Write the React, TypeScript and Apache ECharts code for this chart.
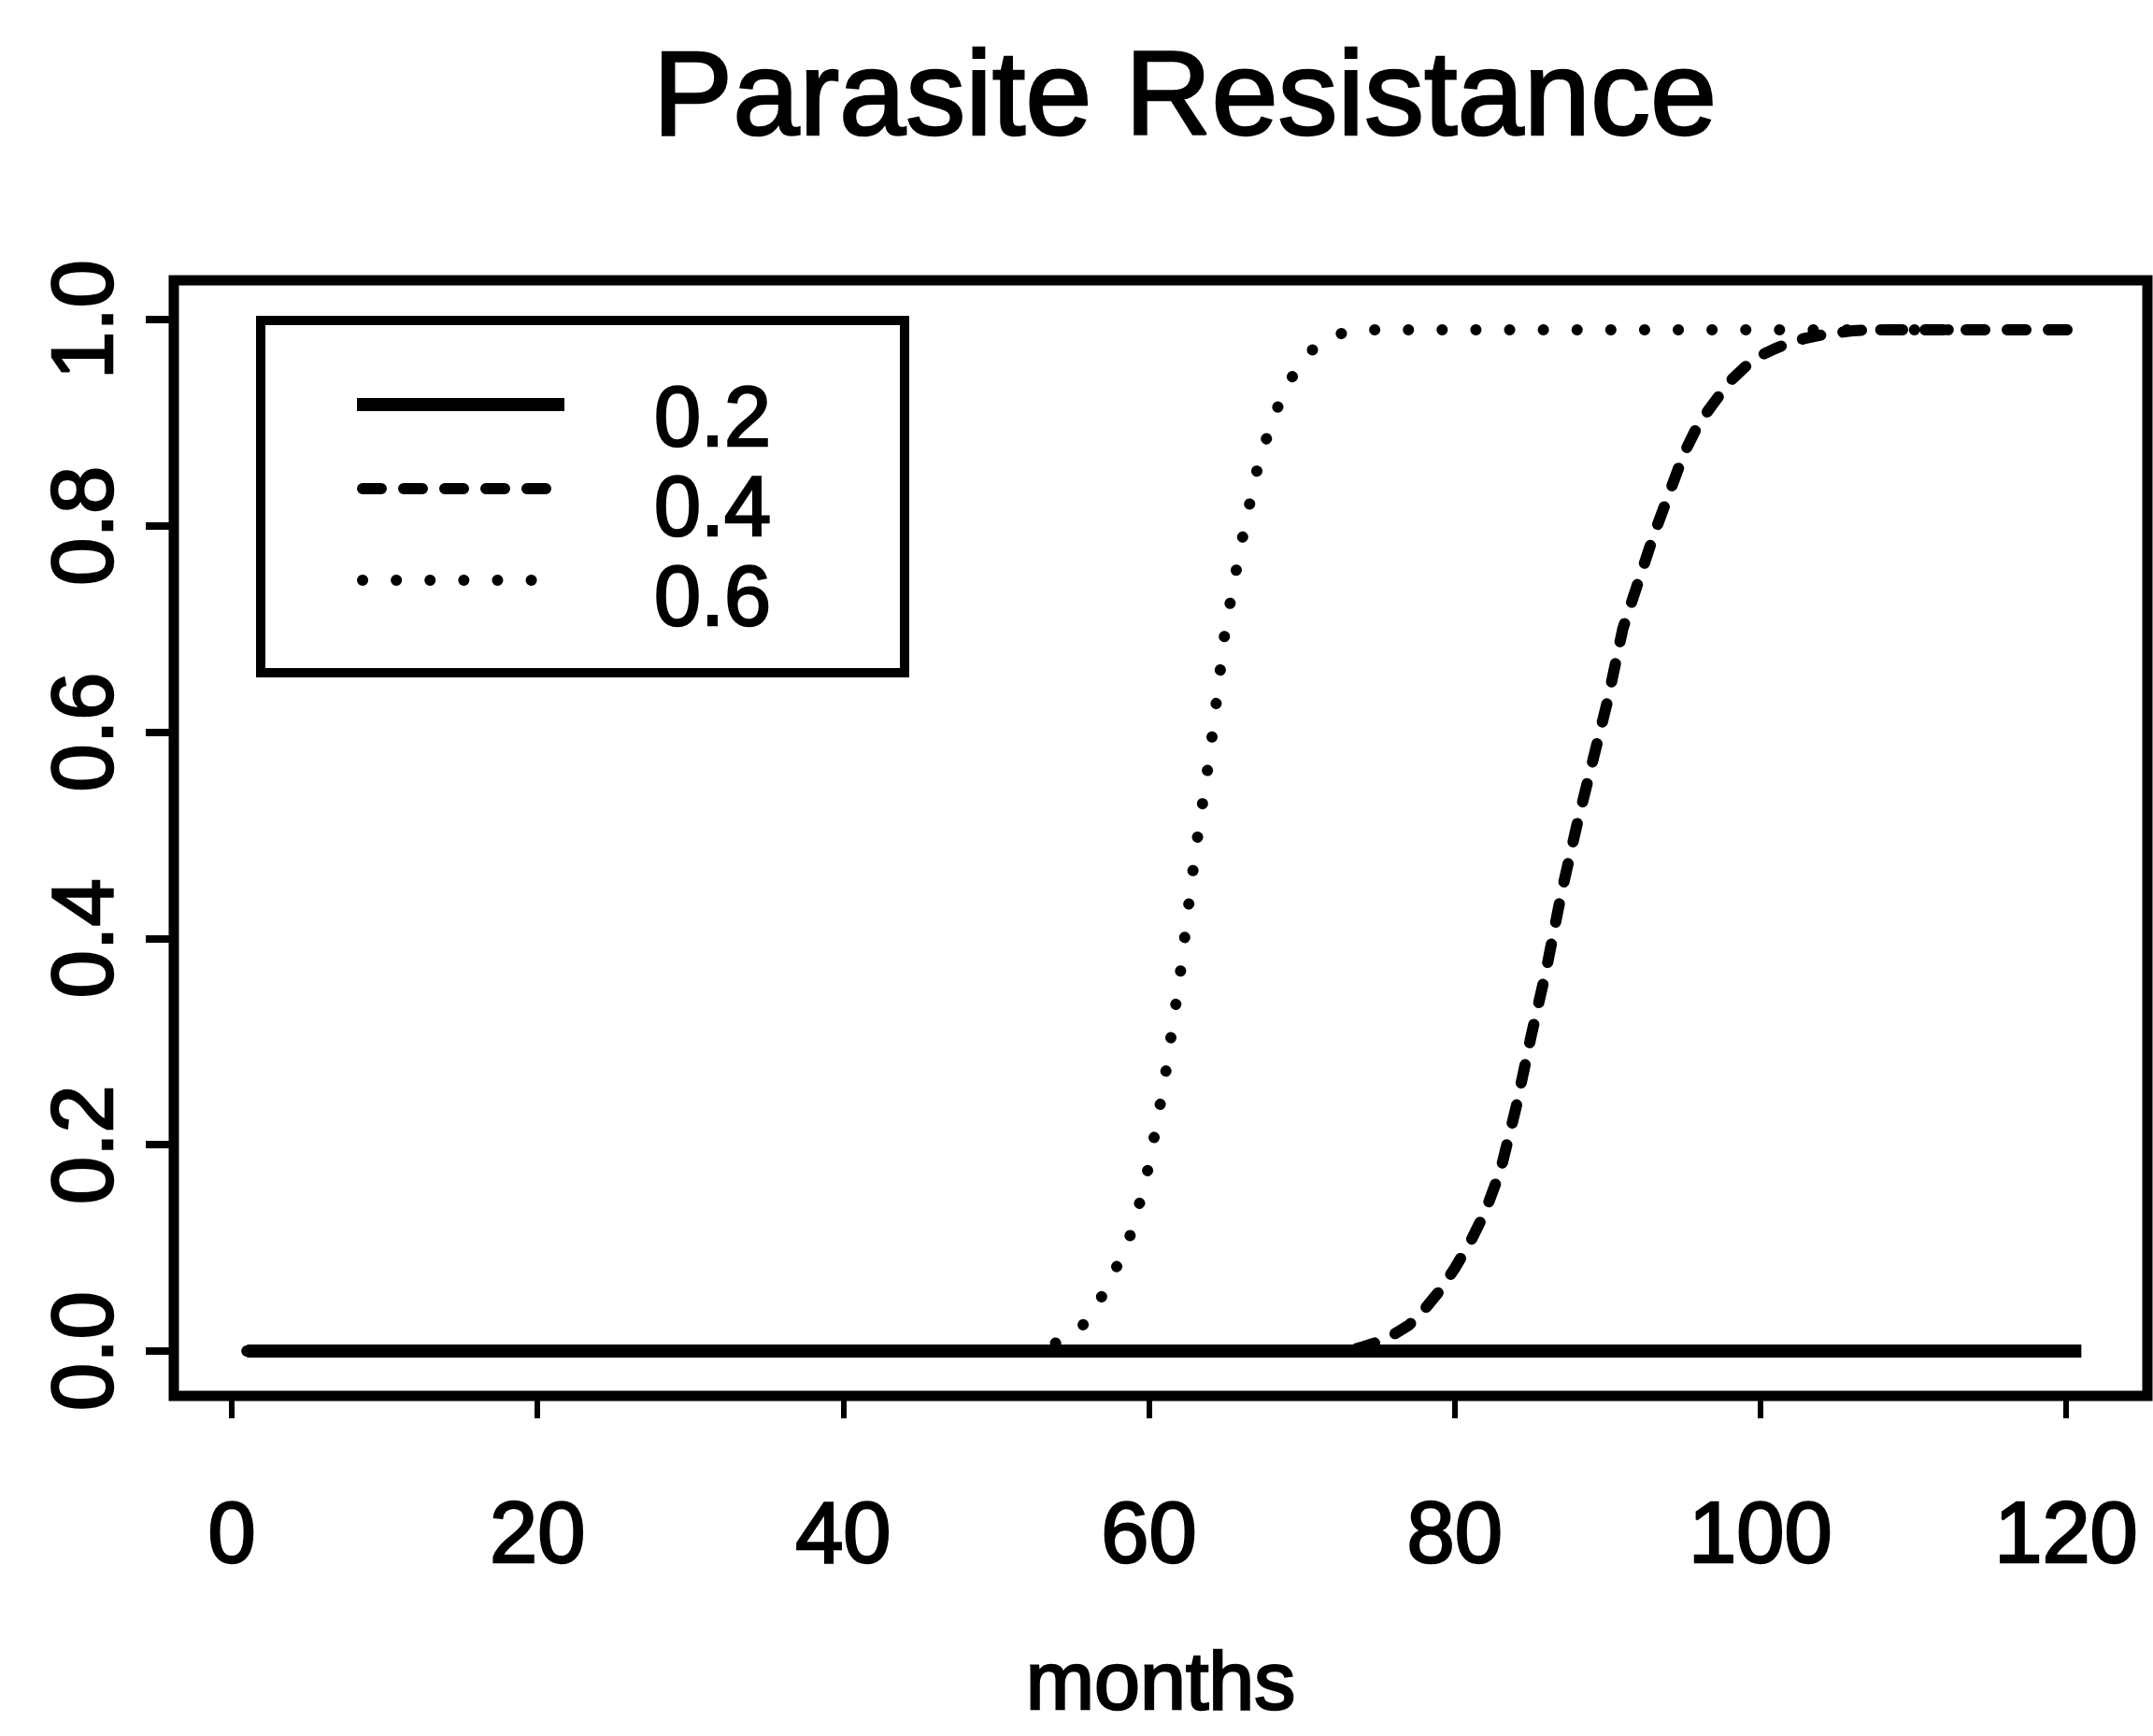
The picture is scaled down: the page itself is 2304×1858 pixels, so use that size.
import React, { useEffect, useRef } from "react";
import * as echarts from "echarts";

// Resistance level over time for three treatment rates
const seriesNames = ["0.2", "0.4", "0.6"];

const rate02Months = [1, 121];
const rate02Values = [0, 0];

const rate04Months = [
  1, 73, 74, 75, 76, 77, 78, 79, 80, 81, 82, 83, 84, 85, 86, 87, 88, 89, 90,
  91, 92, 93, 94, 95, 96, 97, 98, 99, 100, 101, 102, 103, 104, 105, 106, 107,
  121,
];
const rate04Values = [
  0, 0, 0.004, 0.009, 0.016, 0.025, 0.04, 0.058, 0.08, 0.105, 0.135, 0.175,
  0.235, 0.305, 0.37, 0.445, 0.51, 0.57, 0.63, 0.7, 0.745, 0.79, 0.83, 0.87,
  0.9, 0.92, 0.94, 0.954, 0.965, 0.972, 0.978, 0.982, 0.985, 0.987, 0.989,
  0.99, 0.99,
];

const rate06Months = [
  1, 52, 53, 54, 55, 56, 57, 58, 59, 60, 61, 62, 63, 64, 65, 66, 67, 68, 69,
  70, 71, 72, 73, 74, 121,
];
const rate06Values = [
  0, 0, 0.005, 0.008, 0.015, 0.03, 0.055, 0.085, 0.12, 0.18, 0.26, 0.36, 0.48,
  0.58, 0.7, 0.78, 0.85, 0.9, 0.935, 0.96, 0.975, 0.984, 0.988, 0.99, 0.99,
];

const xTickValues = [0, 20, 40, 60, 80, 100, 120];
const yTickValues = [0, 0.2, 0.4, 0.6, 0.8, 1.0];

const FONT = '"Liberation Sans", Arial, Helvetica, sans-serif';
// slight stroke around glyphs gives the heavy print look
const INK = { textBorderColor: "#000", textBorderWidth: 2.5 };

const pairs = (xs: number[], ys: number[]) => xs.map((x, i) => [x, ys[i]]);

const lineStyles = [
  { width: 14, type: "solid" as any, cap: "butt" },
  { width: 12, type: [20, 24] as any, cap: "round" },
  { width: 12, type: [0.1, 36] as any, cap: "round" },
];

export default function App() {
  const ref = useRef<HTMLDivElement>(null);

  useEffect(() => {
    if (!ref.current) return;
    const chart = echarts.init(ref.current, null, { renderer: "svg" });

    const seriesData = [
      pairs(rate02Months, rate02Values),
      pairs(rate04Months, rate04Values),
      pairs(rate06Months, rate06Values),
    ];

    // legend box drawn by hand
    const legendLineY = [433, 523, 621];
    const legendTextY = [446, 542, 638];
    const legendGraphics: any[] = [
      {
        type: "rect",
        shape: { x: 279, y: 343, width: 689, height: 377 },
        style: { fill: "none", stroke: "#000", lineWidth: 10 },
        silent: true,
      },
    ];
    seriesNames.forEach((name, i) => {
      const ls = lineStyles[i];
      legendGraphics.push({
        type: "line",
        shape: {
          x1: i === 0 ? 382 : 388,
          y1: legendLineY[i],
          x2: i === 0 ? 604 : 594,
          y2: legendLineY[i],
        },
        style: {
          stroke: "#000",
          lineWidth: ls.width,
          lineDash: ls.type === "solid" ? null : ls.type,
          lineCap: ls.cap,
        },
        silent: true,
      });
      legendGraphics.push({
        type: "text",
        x: 700,
        y: legendTextY[i],
        style: {
          text: name,
          font: `90px ${FONT}`,
          fill: "#000",
          stroke: "#000",
          lineWidth: 2.5,
          textAlign: "left",
          textVerticalAlign: "middle",
        },
        silent: true,
      });
    });

    chart.setOption({
      animation: false,
      backgroundColor: "#fff",
      title: {
        text: "Parasite Resistance",
        left: 1263,
        top: 30,
        textAlign: "center",
        textStyle: {
          fontFamily: FONT,
          fontSize: 128,
          fontWeight: "normal",
          color: "#000",
          ...INK,
        },
      },
      grid: {
        left: 186,
        top: 300,
        width: 2112,
        height: 1194,
        outerBoundsMode: "none",
        containLabel: false,
        show: true,
        borderColor: "#000",
        borderWidth: 11,
        backgroundColor: "transparent",
      },
      xAxis: {
        type: "value",
        min: -3.79,
        max: 125.32,
        axisLine: { show: false, onZero: false },
        splitLine: { show: false },
        axisTick: {
          show: true,
          customValues: xTickValues,
          length: 24,
          lineStyle: { color: "#000", width: 6 },
        },
        axisLabel: {
          customValues: xTickValues,
          margin: 100,
          fontFamily: FONT,
          fontSize: 92,
          color: "#000",
          ...INK,
        },
        name: "months",
        nameLocation: "middle",
        nameGap: 264,
        nameTextStyle: {
          fontFamily: FONT,
          fontSize: 88,
          lineHeight: 80,
          color: "#000",
          ...INK,
        },
      },
      yAxis: {
        type: "value",
        min: -0.0435,
        max: 1.038,
        axisLine: { show: false, onZero: false },
        splitLine: { show: false },
        axisTick: {
          show: true,
          customValues: yTickValues,
          length: 30,
          lineStyle: { color: "#000", width: 8 },
        },
        axisLabel: {
          customValues: yTickValues,
          rotate: 90,
          margin: 52,
          fontFamily: FONT,
          fontSize: 92,
          color: "#000",
          ...INK,
          formatter: (v: number) => v.toFixed(1),
        },
      },
      graphic: legendGraphics,
      series: seriesNames.map((name, i) => ({
        name,
        type: "line",
        data: seriesData[i],
        symbol: "none",
        silent: true,
        lineStyle: {
          color: "#000",
          width: lineStyles[i].width,
          type: lineStyles[i].type,
          cap: lineStyles[i].cap,
          join: "round",
        },
        z: 2 + i,
      })),
    });

    return () => chart.dispose();
  }, []);

  return (
    <div
      ref={ref}
      style={{
        position: "absolute",
        left: 0,
        top: 0,
        width: 2304,
        height: 1858,
        background: "#fff",
      }}
    />
  );
}
